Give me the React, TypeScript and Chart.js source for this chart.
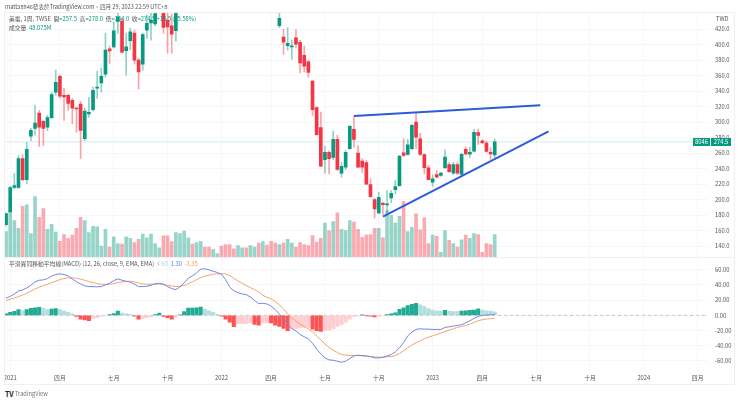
import { useEffect, useRef } from "react";
import { Chart, registerables } from "chart.js";

Chart.register(...registerables);

const FONT = '"Noto Sans CJK TC", "Noto Sans", sans-serif';
const UP = "#089981";
const DOWN = "#f23645";

// weekly bars, the ones from 42 to 65 sit above the visible price range
const openPrices = [
  167.6, 184.4, 215.5, 215.5, 253, 225.8, 281.9, 291.8, 311.7, 300.9, 293.5, 305.7, 338.4, 359, 334.6, 334.6, 328, 318, 323.3, 278.5,
  310.6, 316, 343.6, 350.5, 361.7, 394.5, 397, 430, 430.4, 392, 404.9, 414.8, 379.9, 374.7, 418.7, 427.8, 426.5, 446, 445, 431.6,
  424.3, 417.8, 448, 460, 478, 492, 482, 496, 510, 502, 492, 500, 508, 498, 490, 480, 472, 482, 490, 480,
  488, 494, 484, 490, 480, 468, 424.3, 409.6, 398.4, 397, 408.7, 402.8, 386, 377.7, 353, 318.6, 293, 251.3, 261, 254.3,
  277.6, 234, 241.8, 265.6, 290.5, 260, 249.5, 247.8, 219.3, 200, 182.7, 195.6, 193, 202, 212.9, 218, 260.4, 258.2, 265.6, 300,
  278.5, 258, 241, 222.3, 232.3, 231, 241, 245, 234, 245.2, 232.3, 264.7, 258.6, 262.4, 286.3, 275.9, 272.8, 261, 257.5,
];
const closePrices = [
  181.8, 215.5, 218, 253, 225.8, 264.7, 289.3, 298.7, 293.5, 291.8, 305.7, 335.5, 351.4, 333.3, 332.4, 324.2, 318, 316.8, 289.3, 314.2,
  312.6, 341, 345, 359, 392.8, 391.9, 417.8, 435.5, 390.2, 397, 416.5, 379.9, 364.7, 413, 427.4, 431.6, 440, 470, 422, 422.6,
  413.5, 440.3, 460, 478, 492, 482, 496, 510, 502, 492, 500, 508, 498, 490, 480, 472, 482, 490, 480, 488,
  494, 484, 490, 480, 468, 450, 433.9, 403.2, 401.5, 398, 400.6, 376.4, 372, 364, 316, 283.7, 243, 261, 252.6, 277.6,
  239, 243, 261, 294.4, 277.6, 241.8, 241.8, 220, 203.8, 187.9, 203, 193.4, 194.4, 208, 216.8, 256, 256.9, 270.7, 295.7, 280.6,
  258.2, 241, 225.8, 226.7, 228.8, 234, 254.7, 236, 245, 234, 258.2, 259, 260.8, 286.7, 282.8, 273.3, 262, 259, 274.5,
];
const highPrices = [
  183, 217, 233.6, 257, 258, 273.7, 291.8, 321.6, 315, 302, 308.7, 338, 367, 360.3, 343.6, 336, 330.6, 319.3, 326.8, 318,
  332, 345, 365.6, 369.5, 414.8, 398, 429, 442, 434, 414.8, 421, 418.7, 382.5, 414.8, 438, 440.7, 446, 480, 450, 441,
  439.4, 446, 466, 484, 498, 498, 502, 516, 516, 508, 506, 514, 514, 504, 496, 486, 488, 496, 496, 494,
  500, 500, 496, 496, 486, 474, 442, 419.6, 421.7, 405.8, 419.6, 405.8, 398, 380, 354, 319.6, 313, 269, 263, 288.4,
  282.8, 248, 263, 295.7, 307.4, 269.8, 253, 250.4, 227, 201.6, 209.4, 196, 211.6, 211.6, 224.5, 257, 278.5, 277.6, 297, 313,
  285.4, 259, 244, 232, 237.5, 235, 264, 248, 248, 248, 259.5, 267.6, 267.6, 290.5, 290.5, 277, 275.4, 266.9, 278,
];
const lowPrices = [
  166, 183, 214, 214, 224.5, 220.6, 276, 282.8, 268.5, 269.8, 289, 304.4, 334.6, 330.7, 302, 315, 298, 287, 252.6, 276,
  306, 314, 330.7, 338.4, 358, 375.6, 395.4, 414.8, 389, 360.5, 393, 374.7, 342.7, 367, 408, 405.8, 424, 444, 414.8, 389,
  389, 404.5, 445, 455, 472, 476, 478, 490, 496, 486, 486, 494, 492, 484, 474, 466, 468, 476, 474, 474,
  484, 478, 478, 474, 462, 440.7, 421.7, 387.2, 392.8, 380.8, 395.8, 363.4, 364.7, 358, 308.7, 283, 242.6, 234, 233, 251.3,
  237.5, 229, 238.4, 265, 267.6, 241, 235, 219.5, 203, 176, 181.4, 180.5, 183.5, 196, 207.3, 217, 255.6, 256.9, 264.5, 265.6,
  257, 233, 225.4, 216.8, 228, 230, 240, 235, 232.3, 232, 232, 257, 253.9, 261, 271, 272, 261, 251.7, 254,
];

// volume in millions of shares
const volumes = [
  54, 97, 77, 61, 107, 110, 50, 127, 84, 102, 59, 69, 53, 34, 48, 40, 47, 61, 84, 77,
  52, 65, 64, 24, 59, 22, 43, 29, 28, 43, 40, 31, 38, 49, 41, 49, 29, 20, 45, 45,
  33, 52, 50, 55, 41, 28, 31, 34, 22, 22, 17, 8, 24, 27, 27, 18, 25, 20, 20, 25,
  22, 30, 33, 26, 34, 30, 27, 30, 38, 30, 22, 31, 27, 25, 46, 32, 40, 72, 56, 75,
  93, 59, 56, 77, 74, 59, 42, 47, 48, 61, 61, 41, 98, 88, 72, 86, 117, 54, 63, 91,
  58, 83, 29, 47, 44, 11, 56, 36, 29, 22, 37, 47, 40, 50, 48, 11, 29, 27, 48.075,
];

const macdLine = [
  22.5, 25.1, 28.2, 32.2, 33.5, 36.1, 39.7, 44.1, 46.3, 46.7, 48.5, 51.6, 53.8, 54.6, 53.8, 52, 48, 44.1, 41.4, 38.8,
  37.9, 37.9, 37.5, 37.9, 40.1, 42.3, 45.8, 48, 46.3, 45, 43.6, 41, 37.9, 37.9, 38.3, 39.7, 41.4, 42.3, 41, 37.9,
  35.3, 33.9, 37.5, 42.7, 48.9, 52, 56, 60.8, 61.3, 59.9, 58.2, 56.4, 54.2, 47.2, 37.5, 32.2, 30, 28.2, 27.3, 24.2,
  19.8, 15.4, 15.9, 15, 12.3, 7.5, 1.8, -4.8, -11.9, -17.2, -20.7, -25.1, -28.2, -30.8, -36.6, -44.5, -50.7, -56, -58.6, -59.1,
  -60.4, -61.7, -60.4, -56.8, -53.3, -52.4, -52.9, -53.3, -54.2, -56, -56, -55.1, -53.3, -51.6, -48, -42.7, -35.7, -26.9, -22, -18.5,
  -17.6, -18.1, -18.1, -18.5, -18.5, -18.5, -15.9, -15, -14.1, -13.2, -12.3, -9.7, -7.1, -4, -1.3, 0, 0.4, 0.8, 1.3,
];
const signalLine = [
  19.4, 21.2, 22.9, 24.7, 26.9, 29.1, 31.7, 34.8, 37, 39.2, 41, 43.2, 45, 47.2, 48.5, 49.4, 49.4, 48.9, 47.6, 46.3,
  44.5, 43.2, 41.9, 41, 41, 41, 41.9, 43.2, 44.1, 44.5, 45, 44.1, 42.7, 41.4, 41, 41, 41.4, 41.4, 40.5, 39.7,
  38.8, 37.9, 38.3, 39.2, 41.9, 44.1, 47.2, 49.4, 51.6, 52.9, 54.2, 54.6, 55.1, 54.6, 52.4, 48.9, 45.4, 42.3, 39.2, 36.6,
  33.9, 30.8, 26.4, 23.8, 21.6, 18.5, 13.7, 8.4, 1.8, -3.1, -7.5, -11.5, -14.5, -18.1, -21.6, -27.3, -32.2, -37.5, -42.3, -45.8,
  -48.9, -51.6, -52.4, -52.9, -52.9, -52.9, -53.3, -53.8, -54.2, -54.6, -55.1, -55.1, -54.6, -54.2, -52.9, -50.2, -46.7, -42.3, -39.2, -36.1,
  -33.5, -30.8, -28.6, -26.9, -25.1, -23.4, -21.2, -19.4, -17.6, -15.9, -14.5, -13.2, -11.5, -9.3, -7.1, -5.7, -4.8, -4.4, -3.35,
];
const macdHist = [
  2.2, 4, 5.3, 7.5, 6.2, 7.5, 9.3, 10.1, 10.6, 9.7, 7.5, 8.2, 8.8, 7.5, 5.7, 4, 2.2, -1.5, -5, -6,
  -7, -4, -3, -1.5, -0.5, 1, 2.5, 5.5, 3, 2, 1.5, -1, -5, -4, -3, -2, 1, 3, -1.5, -3,
  -5, -2, 0.5, 5, 9.5, 9.6, 10, 11, 8, 6, 4, 1.5, -1, -5, -9, -15, -11, -10.8, -10.6, -10,
  -12, -13, -10, -9.8, -10, -13, -14.5, -17, -20, -17.5, -17, -16.5, -16, -15.8, -18, -20, -21, -20, -19.5, -17.6,
  -14.5, -12.3, -9, -5, -1.5, -0.5, 0.8, -0.3, -1, -2, -1, -0.5, 1, 2, 3.5, 8, 10, 13, 14.5, 16,
  14, 11.5, 9, 7, 6, 5.8, 6.5, 5.2, 5, 4.9, 5.5, 6, 6.5, 7, 8.5, 7, 6, 5.5, 4.65,
];

// time axis: 170 weekly slots, the chart runs on into empty future weeks
const SLOTS = 170;
const tickSlots = [1, 13, 26, 39, 52, 64, 77, 90, 103, 115, 128, 141, 154, 167];
const tickLabels = ["2021", "四月", "七月", "十月", "2022", "四月", "七月", "十月", "2023", "四月", "七月", "十月", "2024", "四月"];
const priceTicks = [140, 160, 180, 200, 220, 240, 260, 280, 300, 320, 340, 360, 380, 400, 420];
const macdTicks = [-60, -40, -20, 0, 20, 40, 60];

// drawn trend lines: [slot, price] at both ends
const upperTrendSlots = [84, 129];
const upperTrendPrices = [307.8, 321.6];
const lowerTrendSlots = [91, 131];
const lowerTrendPrices = [178, 288];

const LAST_CLOSE = 274.5;

const slots = Array.from({ length: SLOTS }, (_, i) => String(i));
const sparse = (at: number[], vals: number[]) => slots.map((_, i) => (at.includes(i) ? vals[at.indexOf(i)] : null));
const isUp = (i: number) => closePrices[i] >= openPrices[i];

const histColor = (i: number) => {
  const v = macdHist[i];
  const prev = i > 0 ? macdHist[i - 1] : 0;
  if (v >= 0) return v >= prev ? "#22ab94" : "#b2dfdb";
  return v <= prev ? "#ff5252" : "#ffcdd2";
};

const timeAxis = (showLabels: boolean) => ({
  offset: true,
  grid: { offset: false, color: "#f7f7f7", drawTicks: false },
  border: { display: false },
  ticks: {
    display: showLabels,
    autoSkip: false,
    maxRotation: 0,
    padding: 3,
    color: "#555",
    font: { family: FONT, size: 5.8 },
    callback: (_: unknown, i: number) => {
      const at = tickSlots.indexOf(i);
      return at >= 0 ? tickLabels[at] : null;
    },
  },
  afterFit: (axis: any) => {
    axis.height = showLabels ? 14 : 0;
  },
});

const valueAxis = (min: number, max: number, ticks: number[], decimals: number) => ({
  position: "right" as const,
  min,
  max,
  grid: { color: "#f7f7f7", drawTicks: false },
  border: { display: false },
  afterBuildTicks: (axis: any) => {
    axis.ticks = ticks.map((value) => ({ value }));
  },
  afterFit: (axis: any) => {
    axis.width = 32;
  },
  ticks: {
    padding: 7,
    color: "#555",
    font: { family: FONT, size: 5.8 },
    callback: (v: any) => Number(v).toFixed(decimals),
  },
});

const baseOptions = {
  responsive: false,
  animation: false as const,
  events: [],
  plugins: { legend: { display: false }, tooltip: { enabled: false } },
  datasets: { bar: { grouped: false, categoryPercentage: 1, barPercentage: 1 } },
};

const App = () => {
  const priceRef = useRef<HTMLCanvasElement>(null);
  const macdRef = useRef<HTMLCanvasElement>(null);

  useEffect(() => {
    if (!priceRef.current || !macdRef.current) return;

    const priceChart = new Chart(priceRef.current, {
      type: "bar",
      data: {
        labels: slots,
        datasets: [
          {
            type: "line",
            data: sparse(upperTrendSlots, upperTrendPrices),
            yAxisID: "y",
            borderColor: "#2b5cd9",
            borderWidth: 2,
            pointRadius: 0,
            spanGaps: true,
            order: 0,
          },
          {
            type: "line",
            data: sparse(lowerTrendSlots, lowerTrendPrices),
            yAxisID: "y",
            borderColor: "#2b5cd9",
            borderWidth: 2,
            pointRadius: 0,
            spanGaps: true,
            order: 0,
          },
          {
            data: openPrices.map((o, i) => [o, closePrices[i]]),
            yAxisID: "y",
            backgroundColor: openPrices.map((_, i) => (isUp(i) ? UP : DOWN)),
            barThickness: 3,
            minBarLength: 1,
            order: 1,
          },
          {
            data: lowPrices.map((l, i) => [l, highPrices[i]]),
            yAxisID: "y",
            backgroundColor: openPrices.map((_, i) => (isUp(i) ? "rgba(8,153,129,0.45)" : "rgba(242,54,69,0.45)")),
            barThickness: 1,
            order: 2,
          },
          {
            type: "line",
            data: slots.map(() => LAST_CLOSE),
            yAxisID: "y",
            borderColor: "rgba(8,153,129,0.13)",
            borderWidth: 1.5,
            pointRadius: 0,
            order: 3,
          },
          {
            data: volumes,
            yAxisID: "yVol",
            backgroundColor: volumes.map((_, i) => (isUp(i) ? "rgba(8,153,129,0.42)" : "rgba(242,54,69,0.42)")),
            barThickness: 3,
            order: 4,
          },
        ],
      } as any,
      options: {
        ...baseOptions,
        layout: { autoPadding: false, padding: { left: 4, top: 12, right: 0, bottom: 0 } },
        scales: {
          x: timeAxis(false),
          y: valueAxis(125.2, 442, priceTicks, 1),
          yVol: { display: false, min: 0, max: 512 },
        },
      } as any,
    });

    const macdChart = new Chart(macdRef.current, {
      type: "bar",
      data: {
        labels: slots,
        datasets: [
          {
            type: "line",
            data: macdLine,
            borderColor: "#6d88e6",
            borderWidth: 1,
            pointRadius: 0,
            order: 0,
          },
          {
            type: "line",
            data: signalLine,
            borderColor: "#f0a46c",
            borderWidth: 1,
            pointRadius: 0,
            order: 0,
          },
          {
            data: macdHist,
            backgroundColor: macdHist.map((_, i) => histColor(i)),
            barThickness: 3.4,
            order: 1,
          },
          {
            type: "line",
            data: slots.map(() => 0),
            borderColor: "#c4c4c4",
            borderWidth: 1,
            borderDash: [3, 3],
            pointRadius: 0,
            order: 2,
          },
        ],
      } as any,
      options: {
        ...baseOptions,
        layout: { autoPadding: false, padding: { left: 4, top: 1, right: 0, bottom: 0 } },
        scales: {
          x: timeAxis(true),
          y: valueAxis(-73.2, 76.2, macdTicks, 2),
        },
      } as any,
    });

    return () => {
      priceChart.destroy();
      macdChart.destroy();
    };
  }, []);

  const text = (left: number, top: number, size: number, color = "#555") => ({
    position: "absolute" as const,
    left,
    top,
    fontSize: size,
    color,
    lineHeight: "10px",
    whiteSpace: "pre" as const,
  });

  return (
    <div style={{ position: "absolute", left: 0, top: 0, width: 740, height: 402, background: "#fff", fontFamily: FONT, overflow: "hidden" }}>
      {/* both canvases are taller than their pane: the library keeps about 10px spare at the plot edge */}
      <canvas ref={priceRef} width={740} height={268} style={{ position: "absolute", left: 0, top: 0 }} />
      <canvas ref={macdRef} width={740} height={138} style={{ position: "absolute", left: 0, top: 247 }} />

      <div style={{ position: "absolute", left: 4, top: 12, width: 731, height: 373, border: "1px solid #f0f0f0", boxSizing: "border-box" }} />
      <div style={{ position: "absolute", left: 4, top: 257, width: 731, height: 1, background: "#f0f0f0" }} />

      <div style={text(5, 2, 5.6)}>matt38946發表於TradingView.com，四月 29, 2023 22:59 UTC+8</div>

      <div style={text(9, 14, 5.8)}>
        美電, 1周, TWSE{"  "}開<span style={{ color: UP }}>=257.5</span>{"  "}高<span style={{ color: UP }}>=278.0</span>{"  "}低<span style={{ color: UP }}>=254.0</span>{"  "}收<span style={{ color: UP }}>=274.5 +14.5 (+5.58%)</span>
      </div>
      <div style={text(9, 23, 5.8)}>
        成交量{"  "}<span style={{ color: UP }}>48.075M</span>
      </div>
      <div style={text(9, 259, 5.8)}>
        平滑異同移動平均線(MACD) (12, 26, close, 9, EMA, EMA){"  "}
        <span style={{ color: "#a8d8d0" }}>4.65</span>{"  "}
        <span style={{ color: "#5b7fe0" }}>1.30</span>{"  "}
        <span style={{ color: "#f0955a" }}>-3.35</span>
      </div>

      <div style={text(716, 14, 5.8)}>TWD</div>
      <div style={{ ...text(693, 138, 5.8, "#fff"), background: UP, width: 17, height: 8, textAlign: "center", lineHeight: "8px" }}>8046</div>
      <div style={{ ...text(711, 138, 5.8, "#fff"), background: UP, width: 20, height: 8, textAlign: "center", lineHeight: "8px" }}>274.5</div>

      <div style={{ ...text(5, 389, 7, "#222"), fontWeight: 700 }}>TV</div>
      <div style={text(15, 389, 5.7, "#777")}>TradingView</div>
    </div>
  );
};

export default App;
